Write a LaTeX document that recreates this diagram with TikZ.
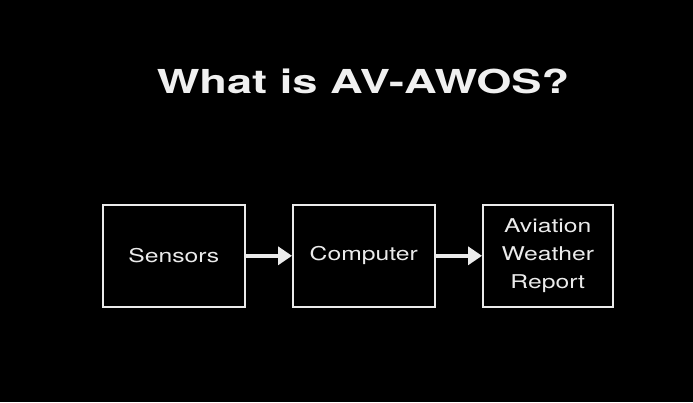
\documentclass[tikz,border=0pt]{standalone}
\usepackage{fontspec}
\setmainfont{TeX Gyre Heros}
\usetikzlibrary{arrows.meta}
\begin{document}
\begin{tikzpicture}[x=1pt,y=-1pt,
  box/.style={draw=white!92!black,line width=1.6pt,anchor=north west,inner sep=0pt},
  lbl/.style={text=white!92!black,font=\fontsize{19}{28}\selectfont,xscale=1.3,align=center},
  conn/.style={white!92!black,line width=4pt,-{Triangle[length=14pt,width=18pt]}}]
\fill[black] (0,0) rectangle (693,402);
\useasboundingbox (0,0) rectangle (693,402);
\node[text=white!94!black,font=\bfseries\fontsize{33}{36}\selectfont,xscale=1.37] (title) at (363,81) {What is AV-AWOS?};
\node[box,minimum width=142pt,minimum height=102pt] (s) at (102,204) {};
\node[box,minimum width=142pt,minimum height=102pt] (c) at (292,204) {};
\node[box,minimum width=130pt,minimum height=102pt] (r) at (482,204) {};
\node[lbl] (st) at (s.center) {Sensors};
\node[lbl] (ct) at (c.center) {Computer};
\node[lbl] (rt) at (r.center) {Aviation\\Weather\\Report};
\draw[conn] (s.east) -- (c.west);
\draw[conn] (c.east) -- (r.west);
\end{tikzpicture}
\end{document}
